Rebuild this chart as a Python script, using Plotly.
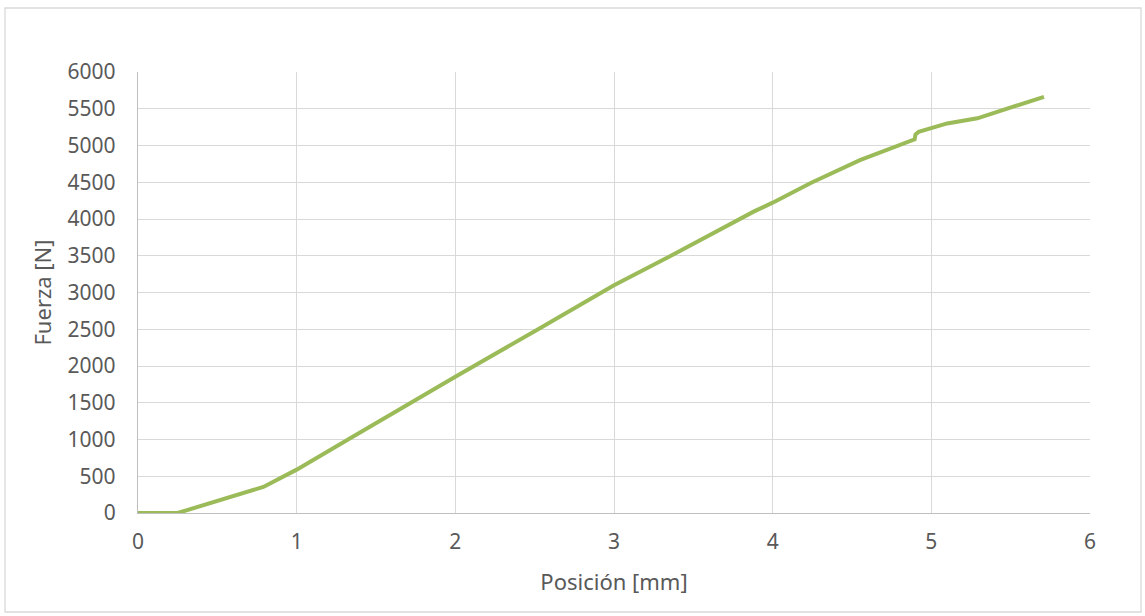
import plotly.graph_objects as go

# Load-displacement curve
posicion_mm = [0, 0.25, 0.79, 1.0, 1.34, 1.73, 2.0, 2.53, 3.0, 3.35, 3.48, 3.75,
               3.88, 4.0, 4.24, 4.55, 4.895, 4.90, 4.92, 5.10, 5.29, 5.71]
fuerza_n = [0, 0, 355, 590, 1020, 1515, 1855, 2510, 3100, 3490, 3640, 3965,
            4100, 4222, 4490, 4800, 5085, 5150, 5185, 5300, 5370, 5662]

x_ticks = [0, 1, 2, 3, 4, 5, 6]
y_ticks = list(range(0, 6001, 500))

W, H = 1145, 616
L, R, T, B = 138, 1090, 72, 513

fig = go.Figure()
fig.add_trace(go.Scatter(
    x=posicion_mm, y=fuerza_n, mode="lines",
    line=dict(color="#9BBB59", width=4),
    hoverinfo="skip", showlegend=False,
))

font = dict(family="Noto Sans, Open Sans, sans-serif", size=21, color="#595959")
title_font = dict(family="Noto Sans, Open Sans, sans-serif", size=22, color="#595959")

fig.update_layout(
    width=W, height=H,
    margin=dict(l=L, r=W - R, t=T, b=H - B, pad=0),
    paper_bgcolor="white", plot_bgcolor="white",
    font=font,
    xaxis=dict(
        range=[0, 6], tickvals=x_ticks, ticktext=[str(v) for v in x_ticks],
        showgrid=True, gridcolor="#d9d9d9", gridwidth=1.3,
        zeroline=False, showline=True, linecolor="#bfbfbf", linewidth=1.3,
        ticks="", ticklabelstandoff=10,
        title=dict(text="Posición [mm]", font=title_font, standoff=20),
        fixedrange=True,
    ),
    yaxis=dict(
        range=[0, 6000], tickvals=y_ticks, ticktext=[str(v) for v in y_ticks],
        showgrid=True, gridcolor="#d9d9d9", gridwidth=1.3,
        zeroline=False, showline=True, linecolor="#bfbfbf", linewidth=1.3,
        ticks="", ticklabelstandoff=17,
        title=dict(text="Fuerza [N]", font=title_font, standoff=9),
        fixedrange=True,
    ),
    shapes=[dict(
        type="rect", xref="paper", yref="paper",
        x0=(5 - L) / (R - L), x1=(1141 - L) / (R - L),
        y0=(B - 612) / (B - T), y1=(B - 8) / (B - T),
        line=dict(color="#d9d9d9", width=1.3), fillcolor="rgba(0,0,0,0)",
        layer="below",
    )],
)

fig.write_html("out.html", config={"displayModeBar": False})
